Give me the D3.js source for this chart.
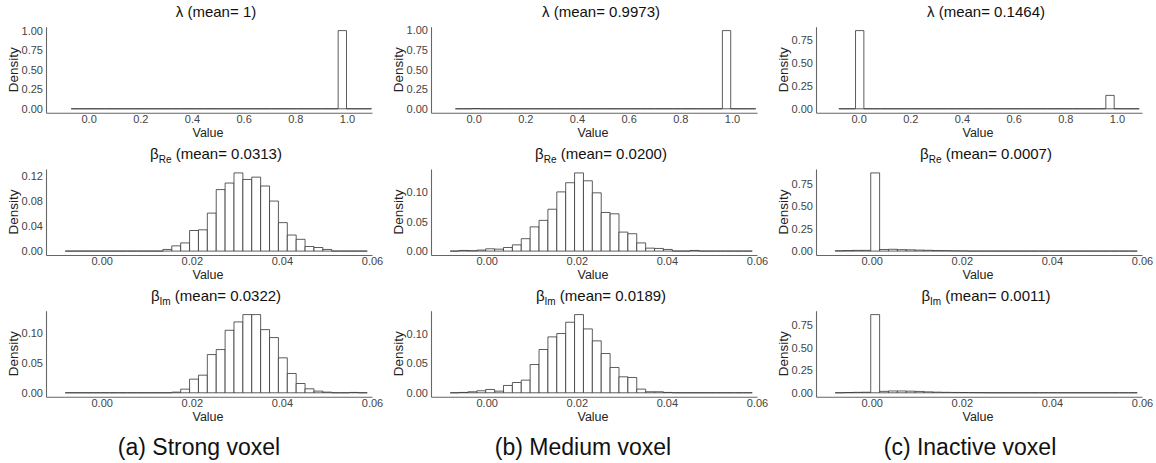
<!DOCTYPE html>
<html><head><meta charset="utf-8">
<script src="https://cdn.jsdelivr.net/npm/d3@7"></script>
<style>
body{margin:0;background:#fff;}
text{font-family:"Liberation Sans",Arial,Helvetica,sans-serif;}
</style>
</head><body>
<svg id="c" width="1156" height="463"></svg>
<script>
// ---------------- data ----------------
const columnCaptions = ["(a) Strong voxel", "(b) Medium voxel", "(c) Inactive voxel"];
const rowSymbols = [["λ", ""], ["β", "Re"], ["β", "Im"]];
const meanLabels = [["1", "0.9973", "0.1464"], ["0.0313", "0.0200", "0.0007"], ["0.0322", "0.0189", "0.0011"]];

const lambdaXTicks = [0, 0.2, 0.4, 0.6, 0.8, 1.0];
const betaXTicks = [0, 0.02, 0.04, 0.06];
const lambdaXDomain = [-0.165, 1.097];
const betaXDomain = [-0.01236, 0.0600];
const lambdaBinStarts = [-0.0676, -0.0706, -0.0766];
const lambdaBinWidth = 0.0323, lambdaBinCount = 36;
const betaBinStart = -0.0081, betaBinWidth = 0.001972, betaBinCount = 34;

const yTicks = [
  [[0, 0.25, 0.5, 0.75, 1.0], [0, 0.25, 0.5, 0.75, 1.0], [0, 0.25, 0.5, 0.75]],
  [[0, 0.04, 0.08, 0.12], [0, 0.05, 0.10], [0, 0.25, 0.5, 0.75]],
  [[0, 0.05, 0.10], [0, 0.05, 0.10], [0, 0.25, 0.5, 0.75]]
];

// bin heights (density) per panel
const lambdaStrong = [0,0,0,0,0,0,0,0,0,0,0,0,0,0,0,0,0,0,0,0,0,0,0,0,0,0,0,0,0,0,0,0,1.0,0,0,0];
const lambdaMedium = [0,0,0.0027,0,0,0,0,0,0,0,0,0,0,0,0,0,0,0,0,0,0,0,0,0,0,0,0,0,0,0,0,0,0.9973,0,0,0];
const lambdaInactive = [0,0,0.8536,0,0,0,0,0,0,0,0,0,0,0,0,0,0,0,0,0,0,0,0,0,0,0,0,0,0,0,0,0,0.1464,0,0,0];

const betaReStrong = [0,0,0,0,0,0,0,0,0,0,0,
  0.0026,0.0083,0.0130,0.0327,0.0338,0.0603,0.0977,0.1081,0.1242,0.1138,
  0.1175,0.1034,0.0795,0.0452,0.0255,0.0187,0.0073,0.0057,0.0026,
  0,0,0,0];
const betaReMedium = [0,0.0011,0.0006,0.0017,0.0039,0.0033,0.0061,0.0106,0.0211,0.0412,
  0.0523,0.0712,0.1007,0.1163,0.1330,0.1196,0.0991,0.0657,0.0634,0.0323,
  0.0295,0.0139,0.0050,0.0045,0.0028,0,0,0.0011,0,0,0,0,0,0];
const betaReInactive = [0.004,0.006,0.008,0.008,0.870,0.018,0.020,0.016,0.014,0.011,
  0.009,0.006,0.005,0.003,0.002,0,0,0,0,0,0,0,0,0,0,0,0,0,0,0,0,0,0,0];

const betaImStrong = [0,0,0,0,0,0,0,0,0,0,0,0,
  0.0011,0.0061,0.0229,0.0296,0.0642,0.0726,0.1050,0.1190,0.1313,0.1313,
  0.1061,0.0927,0.0587,0.0324,0.0156,0.0067,0.0028,0.0011,0,0,0.0006,0];
const betaImMedium = [0,0.0006,0.0017,0.0034,0.0056,0.0028,0.0124,0.0174,0.0214,0.0478,
  0.0732,0.0945,0.1002,0.1193,0.1322,0.1080,0.0878,0.0664,0.0428,0.0270,
  0.0259,0.0062,0.0017,0.0017,0.0006,0,0,0,0,0,0,0,0,0];
const betaImInactive = [0,0.003,0.005,0.006,0.865,0.016,0.020,0.020,0.018,0.015,
  0.010,0.007,0.005,0.004,0.003,0.002,0.001,0,0,0,0,0,0,0,0,0,0,0,0,0,0,0,0,0];

const panelValues = [
  [lambdaStrong, lambdaMedium, lambdaInactive],
  [betaReStrong, betaReMedium, betaReInactive],
  [betaImStrong, betaImMedium, betaImInactive]
];

// ---------------- layout ----------------
const svg = d3.select("#c");
const colX = [0, 385, 770];
const rowTop = [26.7, 169, 310.7];
const panelLeft = 46, panelW = 326, panelH = 86;
const captionX = [199, 583, 970];

for (let r = 0; r < 3; r++) {
  const isLambda = r === 0;
  for (let c = 0; c < 3; c++) {
    const vals = panelValues[r][c];
    const binStart = isLambda ? lambdaBinStarts[c] : betaBinStart;
    const binWidth = isLambda ? lambdaBinWidth : betaBinWidth;
    const x0 = colX[c] + panelLeft;
    const top = rowTop[r];
    const bottom = top + panelH;
    const M = d3.max(vals);
    const x = d3.scaleLinear().domain(isLambda ? lambdaXDomain : betaXDomain).range([x0, x0 + panelW]);
    const y = d3.scaleLinear().domain([-0.05 * M, 1.05 * M]).range([bottom, top]);
    const g = svg.append("g");

    // bars (each bin as an outlined rectangle, zero bins show as a flat line)
    const binData = vals.map((v, i) => ({x0: binStart + i * binWidth, x1: binStart + (i + 1) * binWidth, v}));
    g.selectAll("path.bar").data(binData).join("path")
      .attr("class", "bar")
      .attr("d", d => {
        const a = x(d.x0), b = x(d.x1), y0 = y(0), y1 = y(d.v);
        return `M${a},${y0}V${y1}H${b}V${y0}Z`;
      })
      .attr("fill", "#fff")
      .attr("stroke", "#333")
      .attr("stroke-width", 0.8);

    // axes
    const fmtY = d3.format(".2f");
    const yAxis = d3.axisLeft(y).tickValues(yTicks[r][c]).tickSize(0).tickSizeOuter(0).tickPadding(3).tickFormat(fmtY);
    const xAxis = d3.axisBottom(x).tickValues(isLambda ? lambdaXTicks : betaXTicks).tickSize(0).tickSizeOuter(0).tickPadding(2)
      .tickFormat(isLambda ? d3.format(".1f") : d3.format(".2f"));
    const ya = g.append("g").attr("transform", `translate(${x0},0)`).call(yAxis);
    const xa = g.append("g").attr("transform", `translate(0,${bottom})`).call(xAxis);
    [ya, xa].forEach(a => {
      a.select(".domain").attr("stroke", "#666").attr("stroke-width", 1.1);
      a.selectAll("text").attr("font-size", 11).attr("fill", "#444")
        .attr("font-family", '"Liberation Sans",Arial,sans-serif');
    });

    // axis titles
    g.append("text").attr("transform", `translate(${colX[c] + 18},${top + panelH / 2}) rotate(-90)`)
      .attr("text-anchor", "middle").attr("font-size", 13.5).attr("fill", "#222").text("Density");
    g.append("text").attr("x", x0 + panelW / 2 - 1).attr("y", bottom + 24)
      .attr("text-anchor", "middle").attr("font-size", 12.5).attr("fill", "#222").text("Value");

    // panel title
    const t = g.append("text").attr("x", colX[c] + 216).attr("y", top - 10)
      .attr("text-anchor", "middle").attr("font-size", 15).attr("fill", "#111");
    t.append("tspan").text(rowSymbols[r][0]);
    if (rowSymbols[r][1]) {
      t.append("tspan").attr("font-size", 10).attr("dy", 4).text(rowSymbols[r][1]);
      t.append("tspan").attr("dy", -4).text(" (mean= " + meanLabels[r][c] + ")");
    } else {
      t.append("tspan").text(" (mean= " + meanLabels[r][c] + ")");
    }
  }
}

// column captions
svg.selectAll("text.caption").data(columnCaptions).join("text")
  .attr("class", "caption")
  .attr("x", (d, i) => captionX[i]).attr("y", 455)
  .attr("text-anchor", "middle").attr("font-size", 23).attr("fill", "#111")
  .text(d => d);
</script>
</body></html>
